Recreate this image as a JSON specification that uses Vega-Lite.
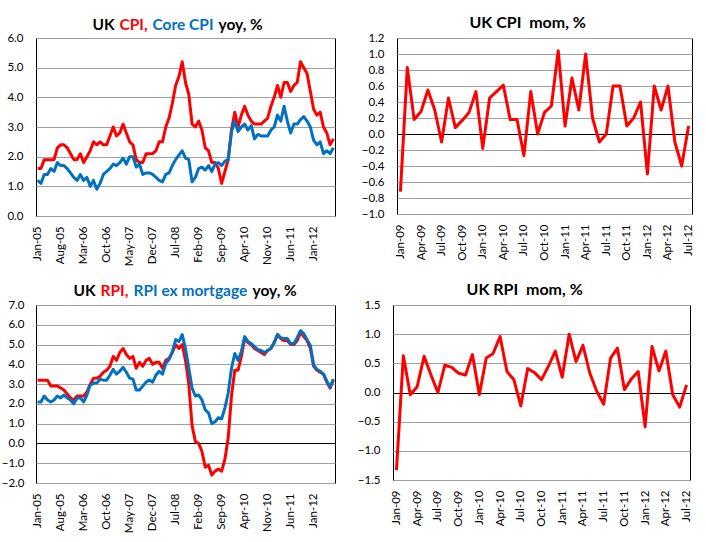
{
  "$schema": "https://vega.github.io/schema/vega-lite/v6.json",
  "padding": {"left": 0, "top": 14, "right": 5, "bottom": 5},
  "background": "white",
  "datasets": {
    "yoy": [
      {"month": "Jan-05", "CPI": 1.6, "Core CPI": 1.2, "RPI": 3.2, "RPI ex mortgage": 2.1},
      {"month": "Feb-05", "CPI": 1.6, "Core CPI": 1.1, "RPI": 3.2, "RPI ex mortgage": 2.1},
      {"month": "Mar-05", "CPI": 1.9, "Core CPI": 1.4, "RPI": 3.2, "RPI ex mortgage": 2.4},
      {"month": "Apr-05", "CPI": 1.9, "Core CPI": 1.4, "RPI": 3.2, "RPI ex mortgage": 2.2},
      {"month": "May-05", "CPI": 1.9, "Core CPI": 1.6, "RPI": 2.9, "RPI ex mortgage": 2.1},
      {"month": "Jun-05", "CPI": 1.9, "Core CPI": 1.5, "RPI": 2.9, "RPI ex mortgage": 2.2},
      {"month": "Jul-05", "CPI": 2.3, "Core CPI": 1.8, "RPI": 2.9, "RPI ex mortgage": 2.4},
      {"month": "Aug-05", "CPI": 2.4, "Core CPI": 1.7, "RPI": 2.8, "RPI ex mortgage": 2.3},
      {"month": "Sep-05", "CPI": 2.4, "Core CPI": 1.7, "RPI": 2.7, "RPI ex mortgage": 2.45},
      {"month": "Oct-05", "CPI": 2.3, "Core CPI": 1.6, "RPI": 2.5, "RPI ex mortgage": 2.3},
      {"month": "Nov-05", "CPI": 2.1, "Core CPI": 1.45, "RPI": 2.3, "RPI ex mortgage": 2.2},
      {"month": "Dec-05", "CPI": 1.9, "Core CPI": 1.3, "RPI": 2.2, "RPI ex mortgage": 2.0},
      {"month": "Jan-06", "CPI": 1.9, "Core CPI": 1.2, "RPI": 2.4, "RPI ex mortgage": 2.3},
      {"month": "Feb-06", "CPI": 2.1, "Core CPI": 1.4, "RPI": 2.4, "RPI ex mortgage": 2.3},
      {"month": "Mar-06", "CPI": 1.8, "Core CPI": 1.2, "RPI": 2.4, "RPI ex mortgage": 2.1},
      {"month": "Apr-06", "CPI": 2.0, "Core CPI": 1.3, "RPI": 2.6, "RPI ex mortgage": 2.45},
      {"month": "May-06", "CPI": 2.2, "Core CPI": 1.0, "RPI": 3.0, "RPI ex mortgage": 2.95},
      {"month": "Jun-06", "CPI": 2.5, "Core CPI": 1.2, "RPI": 3.3, "RPI ex mortgage": 3.05},
      {"month": "Jul-06", "CPI": 2.4, "Core CPI": 0.9, "RPI": 3.3, "RPI ex mortgage": 3.05},
      {"month": "Aug-06", "CPI": 2.5, "Core CPI": 1.1, "RPI": 3.4, "RPI ex mortgage": 3.25},
      {"month": "Sep-06", "CPI": 2.4, "Core CPI": 1.4, "RPI": 3.6, "RPI ex mortgage": 3.2},
      {"month": "Oct-06", "CPI": 2.4, "Core CPI": 1.5, "RPI": 3.7, "RPI ex mortgage": 3.2},
      {"month": "Nov-06", "CPI": 2.7, "Core CPI": 1.6, "RPI": 3.9, "RPI ex mortgage": 3.45},
      {"month": "Dec-06", "CPI": 3.0, "Core CPI": 1.75, "RPI": 4.4, "RPI ex mortgage": 3.75},
      {"month": "Jan-07", "CPI": 2.7, "Core CPI": 1.7, "RPI": 4.2, "RPI ex mortgage": 3.5},
      {"month": "Feb-07", "CPI": 2.8, "Core CPI": 1.8, "RPI": 4.6, "RPI ex mortgage": 3.65},
      {"month": "Mar-07", "CPI": 3.1, "Core CPI": 1.95, "RPI": 4.8, "RPI ex mortgage": 3.85},
      {"month": "Apr-07", "CPI": 2.8, "Core CPI": 1.75, "RPI": 4.5, "RPI ex mortgage": 3.6},
      {"month": "May-07", "CPI": 2.5, "Core CPI": 2.0, "RPI": 4.3, "RPI ex mortgage": 3.3},
      {"month": "Jun-07", "CPI": 2.4, "Core CPI": 2.0, "RPI": 4.4, "RPI ex mortgage": 3.25},
      {"month": "Jul-07", "CPI": 1.9, "Core CPI": 1.65, "RPI": 3.8, "RPI ex mortgage": 2.7},
      {"month": "Aug-07", "CPI": 1.8, "Core CPI": 1.75, "RPI": 4.1, "RPI ex mortgage": 2.7},
      {"month": "Sep-07", "CPI": 1.8, "Core CPI": 1.4, "RPI": 3.9, "RPI ex mortgage": 2.9},
      {"month": "Oct-07", "CPI": 2.1, "Core CPI": 1.45, "RPI": 4.2, "RPI ex mortgage": 3.1},
      {"month": "Nov-07", "CPI": 2.1, "Core CPI": 1.45, "RPI": 4.3, "RPI ex mortgage": 3.2},
      {"month": "Dec-07", "CPI": 2.1, "Core CPI": 1.4, "RPI": 4.0, "RPI ex mortgage": 3.1},
      {"month": "Jan-08", "CPI": 2.2, "Core CPI": 1.3, "RPI": 4.1, "RPI ex mortgage": 3.45},
      {"month": "Feb-08", "CPI": 2.5, "Core CPI": 1.2, "RPI": 4.1, "RPI ex mortgage": 3.65},
      {"month": "Mar-08", "CPI": 2.5, "Core CPI": 1.15, "RPI": 3.8, "RPI ex mortgage": 3.5},
      {"month": "Apr-08", "CPI": 3.0, "Core CPI": 1.4, "RPI": 4.2, "RPI ex mortgage": 4.05},
      {"month": "May-08", "CPI": 3.3, "Core CPI": 1.45, "RPI": 4.3, "RPI ex mortgage": 4.25},
      {"month": "Jun-08", "CPI": 3.8, "Core CPI": 1.7, "RPI": 4.6, "RPI ex mortgage": 4.65},
      {"month": "Jul-08", "CPI": 4.4, "Core CPI": 1.9, "RPI": 5.0, "RPI ex mortgage": 5.25},
      {"month": "Aug-08", "CPI": 4.7, "Core CPI": 2.05, "RPI": 4.8, "RPI ex mortgage": 5.15},
      {"month": "Sep-08", "CPI": 5.2, "Core CPI": 2.2, "RPI": 5.0, "RPI ex mortgage": 5.5},
      {"month": "Oct-08", "CPI": 4.5, "Core CPI": 1.95, "RPI": 4.2, "RPI ex mortgage": 4.8},
      {"month": "Nov-08", "CPI": 4.1, "Core CPI": 1.9, "RPI": 3.0, "RPI ex mortgage": 3.8},
      {"month": "Dec-08", "CPI": 3.1, "Core CPI": 1.15, "RPI": 0.9, "RPI ex mortgage": 2.8},
      {"month": "Jan-09", "CPI": 3.0, "Core CPI": 1.3, "RPI": 0.1, "RPI ex mortgage": 2.4},
      {"month": "Feb-09", "CPI": 3.2, "Core CPI": 1.6, "RPI": 0.0, "RPI ex mortgage": 2.45},
      {"month": "Mar-09", "CPI": 2.9, "Core CPI": 1.65, "RPI": -0.4, "RPI ex mortgage": 2.2},
      {"month": "Apr-09", "CPI": 2.3, "Core CPI": 1.55, "RPI": -1.2, "RPI ex mortgage": 1.7},
      {"month": "May-09", "CPI": 2.2, "Core CPI": 1.7, "RPI": -1.1, "RPI ex mortgage": 1.55},
      {"month": "Jun-09", "CPI": 1.8, "Core CPI": 1.5, "RPI": -1.6, "RPI ex mortgage": 1.0},
      {"month": "Jul-09", "CPI": 1.8, "Core CPI": 1.75, "RPI": -1.4, "RPI ex mortgage": 1.1},
      {"month": "Aug-09", "CPI": 1.6, "Core CPI": 1.8, "RPI": -1.3, "RPI ex mortgage": 1.3},
      {"month": "Sep-09", "CPI": 1.1, "Core CPI": 1.7, "RPI": -1.4, "RPI ex mortgage": 1.25},
      {"month": "Oct-09", "CPI": 1.5, "Core CPI": 1.85, "RPI": -0.8, "RPI ex mortgage": 1.8},
      {"month": "Nov-09", "CPI": 1.9, "Core CPI": 1.9, "RPI": 0.3, "RPI ex mortgage": 2.55},
      {"month": "Dec-09", "CPI": 2.9, "Core CPI": 2.85, "RPI": 2.4, "RPI ex mortgage": 3.8},
      {"month": "Jan-10", "CPI": 3.5, "Core CPI": 3.2, "RPI": 3.7, "RPI ex mortgage": 4.55},
      {"month": "Feb-10", "CPI": 3.0, "Core CPI": 2.85, "RPI": 3.7, "RPI ex mortgage": 4.2},
      {"month": "Mar-10", "CPI": 3.4, "Core CPI": 3.0, "RPI": 4.4, "RPI ex mortgage": 4.65},
      {"month": "Apr-10", "CPI": 3.7, "Core CPI": 3.1, "RPI": 5.3, "RPI ex mortgage": 5.4},
      {"month": "May-10", "CPI": 3.4, "Core CPI": 2.9, "RPI": 5.1, "RPI ex mortgage": 5.15},
      {"month": "Jun-10", "CPI": 3.2, "Core CPI": 3.05, "RPI": 5.0, "RPI ex mortgage": 5.05},
      {"month": "Jul-10", "CPI": 3.1, "Core CPI": 2.6, "RPI": 4.8, "RPI ex mortgage": 4.9},
      {"month": "Aug-10", "CPI": 3.1, "Core CPI": 2.75, "RPI": 4.7, "RPI ex mortgage": 4.75},
      {"month": "Sep-10", "CPI": 3.1, "Core CPI": 2.7, "RPI": 4.6, "RPI ex mortgage": 4.7},
      {"month": "Oct-10", "CPI": 3.2, "Core CPI": 2.7, "RPI": 4.5, "RPI ex mortgage": 4.6},
      {"month": "Nov-10", "CPI": 3.3, "Core CPI": 2.7, "RPI": 4.7, "RPI ex mortgage": 4.7},
      {"month": "Dec-10", "CPI": 3.7, "Core CPI": 2.9, "RPI": 4.8, "RPI ex mortgage": 4.8},
      {"month": "Jan-11", "CPI": 4.0, "Core CPI": 3.0, "RPI": 5.1, "RPI ex mortgage": 5.1},
      {"month": "Feb-11", "CPI": 4.4, "Core CPI": 3.4, "RPI": 5.5, "RPI ex mortgage": 5.5},
      {"month": "Mar-11", "CPI": 4.0, "Core CPI": 3.2, "RPI": 5.3, "RPI ex mortgage": 5.35},
      {"month": "Apr-11", "CPI": 4.5, "Core CPI": 3.7, "RPI": 5.2, "RPI ex mortgage": 5.3},
      {"month": "May-11", "CPI": 4.5, "Core CPI": 3.2, "RPI": 5.2, "RPI ex mortgage": 5.3},
      {"month": "Jun-11", "CPI": 4.2, "Core CPI": 2.8, "RPI": 5.0, "RPI ex mortgage": 5.05},
      {"month": "Jul-11", "CPI": 4.4, "Core CPI": 3.1, "RPI": 5.0, "RPI ex mortgage": 5.05},
      {"month": "Aug-11", "CPI": 4.5, "Core CPI": 3.1, "RPI": 5.2, "RPI ex mortgage": 5.35},
      {"month": "Sep-11", "CPI": 5.2, "Core CPI": 3.25, "RPI": 5.6, "RPI ex mortgage": 5.7},
      {"month": "Oct-11", "CPI": 5.0, "Core CPI": 3.35, "RPI": 5.4, "RPI ex mortgage": 5.55},
      {"month": "Nov-11", "CPI": 4.8, "Core CPI": 3.2, "RPI": 5.2, "RPI ex mortgage": 5.25},
      {"month": "Dec-11", "CPI": 4.2, "Core CPI": 3.0, "RPI": 4.8, "RPI ex mortgage": 4.95},
      {"month": "Jan-12", "CPI": 3.6, "Core CPI": 2.55, "RPI": 3.9, "RPI ex mortgage": 3.95},
      {"month": "Feb-12", "CPI": 3.4, "Core CPI": 2.4, "RPI": 3.7, "RPI ex mortgage": 3.75},
      {"month": "Mar-12", "CPI": 3.5, "Core CPI": 2.5, "RPI": 3.6, "RPI ex mortgage": 3.65},
      {"month": "Apr-12", "CPI": 3.0, "Core CPI": 2.1, "RPI": 3.5, "RPI ex mortgage": 3.5},
      {"month": "May-12", "CPI": 2.8, "Core CPI": 2.2, "RPI": 3.1, "RPI ex mortgage": 3.15},
      {"month": "Jun-12", "CPI": 2.4, "Core CPI": 2.1, "RPI": 2.8, "RPI ex mortgage": 2.85},
      {"month": "Jul-12", "CPI": 2.6, "Core CPI": 2.3, "RPI": 3.2, "RPI ex mortgage": 3.25}
    ],
    "mom": [
      {"month": "Jan-09", "CPI": -0.72, "RPI": -1.33},
      {"month": "Feb-09", "CPI": 0.83, "RPI": 0.63},
      {"month": "Mar-09", "CPI": 0.18, "RPI": -0.04},
      {"month": "Apr-09", "CPI": 0.28, "RPI": 0.1},
      {"month": "May-09", "CPI": 0.55, "RPI": 0.62},
      {"month": "Jun-09", "CPI": 0.3, "RPI": 0.3},
      {"month": "Jul-09", "CPI": -0.1, "RPI": 0.0},
      {"month": "Aug-09", "CPI": 0.45, "RPI": 0.47},
      {"month": "Sep-09", "CPI": 0.08, "RPI": 0.43},
      {"month": "Oct-09", "CPI": 0.17, "RPI": 0.33},
      {"month": "Nov-09", "CPI": 0.27, "RPI": 0.3},
      {"month": "Dec-09", "CPI": 0.53, "RPI": 0.65},
      {"month": "Jan-10", "CPI": -0.18, "RPI": -0.04},
      {"month": "Feb-10", "CPI": 0.45, "RPI": 0.59},
      {"month": "Mar-10", "CPI": 0.53, "RPI": 0.67},
      {"month": "Apr-10", "CPI": 0.61, "RPI": 0.96},
      {"month": "May-10", "CPI": 0.18, "RPI": 0.36},
      {"month": "Jun-10", "CPI": 0.18, "RPI": 0.22},
      {"month": "Jul-10", "CPI": -0.27, "RPI": -0.23},
      {"month": "Aug-10", "CPI": 0.53, "RPI": 0.41},
      {"month": "Sep-10", "CPI": 0.0, "RPI": 0.34},
      {"month": "Oct-10", "CPI": 0.27, "RPI": 0.22},
      {"month": "Nov-10", "CPI": 0.35, "RPI": 0.45},
      {"month": "Dec-10", "CPI": 1.04, "RPI": 0.71},
      {"month": "Jan-11", "CPI": 0.1, "RPI": 0.26},
      {"month": "Feb-11", "CPI": 0.7, "RPI": 1.0},
      {"month": "Mar-11", "CPI": 0.3, "RPI": 0.53},
      {"month": "Apr-11", "CPI": 1.0, "RPI": 0.81},
      {"month": "May-11", "CPI": 0.2, "RPI": 0.33},
      {"month": "Jun-11", "CPI": -0.1, "RPI": 0.02},
      {"month": "Jul-11", "CPI": 0.0, "RPI": -0.2},
      {"month": "Aug-11", "CPI": 0.6, "RPI": 0.59},
      {"month": "Sep-11", "CPI": 0.6, "RPI": 0.76},
      {"month": "Oct-11", "CPI": 0.1, "RPI": 0.05},
      {"month": "Nov-11", "CPI": 0.2, "RPI": 0.23},
      {"month": "Dec-11", "CPI": 0.4, "RPI": 0.36},
      {"month": "Jan-12", "CPI": -0.5, "RPI": -0.59},
      {"month": "Feb-12", "CPI": 0.6, "RPI": 0.79},
      {"month": "Mar-12", "CPI": 0.3, "RPI": 0.37},
      {"month": "Apr-12", "CPI": 0.6, "RPI": 0.71},
      {"month": "May-12", "CPI": -0.1, "RPI": -0.04},
      {"month": "Jun-12", "CPI": -0.4, "RPI": -0.25},
      {"month": "Jul-12", "CPI": 0.1, "RPI": 0.13}
    ]
  },
  "spacing": 14,
  "align": "none",
  "vconcat": [
    {
      "spacing": 24,
      "hconcat": [
        {
          "width": 299,
          "height": 178,
          "data": {"name": "yoy"},
          "transform": [{"fold": ["CPI", "Core CPI"], "as": ["series", "value"]}],
          "mark": {"type": "line", "strokeWidth": 3, "strokeJoin": "round"},
          "encoding": {
            "x": {
              "field": "month", "type": "ordinal", "sort": null,
              "scale": {"type": "point", "padding": 0.5},
              "axis": {"title": null, "labelAngle": -90, "values": ["Jan-05", "Aug-05", "Mar-06", "Oct-06", "May-07", "Dec-07", "Jul-08", "Feb-09", "Sep-09", "Apr-10", "Nov-10", "Jun-11", "Jan-12"]}
            },
            "y": {
              "field": "value", "type": "quantitative",
              "scale": {"domain": [0, 6], "nice": false},
              "axis": {"title": null, "format": ".1f", "values": [0, 1, 2, 3, 4, 5, 6], "minExtent": 30, "maxExtent": 30}
            },
            "color": {
              "field": "series", "type": "nominal",
              "scale": {"domain": ["UK", "CPI", "Core CPI", "yoy, %"], "range": ["black", "#FF0000", "#0070C0", "black"]},
              "legend": {
                "orient": "none", "legendX": 57, "legendY": -21, "direction": "horizontal", "columns": 4, "title": null,
                "symbolType": "circle", "symbolSize": 0.01, "symbolStrokeWidth": 0, "symbolOpacity": 0,
                "labelOffset": -16, "columnPadding": 4, "gridAlign": "each",
                "labelExpr": "datum.label == 'CPI' ? 'CPI,' : datum.label",
                "labelColor": {"expr": "datum.value == 'CPI' ? '#FF0000' : datum.value == 'Core CPI' ? '#0070C0' : 'black'"}
              }
            }
          }
        },
        {
          "width": 295,
          "height": 176,
          "title": "UK CPI\u00a0 mom, %",
          "data": {"name": "mom"},
          "mark": {"type": "line", "strokeWidth": 3, "strokeJoin": "round", "color": "#FF0000"},
          "encoding": {
            "x": {
              "field": "month", "type": "ordinal", "sort": null,
              "scale": {"type": "point", "padding": 0.5},
              "axis": {"title": null, "labelAngle": -90, "values": ["Jan-09", "Apr-09", "Jul-09", "Oct-09", "Jan-10", "Apr-10", "Jul-10", "Oct-10", "Jan-11", "Apr-11", "Jul-11", "Oct-11", "Jan-12", "Apr-12", "Jul-12"]}
            },
            "y": {
              "field": "CPI", "type": "quantitative",
              "scale": {"domain": [-1, 1.2], "nice": false},
              "axis": {
                "title": null, "format": ".1f", "minExtent": 35, "maxExtent": 35,
                "values": [-1, -0.8, -0.6, -0.4, -0.2, 0, 0.2, 0.4, 0.6, 0.8, 1, 1.2],
                "gridColor": {"condition": {"test": "abs(datum.value) < 0.001", "value": "black"}, "value": "#A0A0A0"}
              }
            }
          }
        }
      ],
      "resolve": {"scale": {"color": "independent"}, "legend": {"color": "independent"}}
    },
    {
      "spacing": 20,
      "hconcat": [
        {
          "width": 299,
          "height": 178,
          "data": {"name": "yoy"},
          "transform": [{"fold": ["RPI", "RPI ex mortgage"], "as": ["series", "value"]}],
          "mark": {"type": "line", "strokeWidth": 3, "strokeJoin": "round"},
          "encoding": {
            "x": {
              "field": "month", "type": "ordinal", "sort": null,
              "scale": {"type": "point", "padding": 0.5},
              "axis": {"title": null, "labelAngle": -90, "values": ["Jan-05", "Aug-05", "Mar-06", "Oct-06", "May-07", "Dec-07", "Jul-08", "Feb-09", "Sep-09", "Apr-10", "Nov-10", "Jun-11", "Jan-12"]}
            },
            "y": {
              "field": "value", "type": "quantitative",
              "scale": {"domain": [-2, 7], "nice": false},
              "axis": {
                "title": null, "format": ".1f", "values": [-2, -1, 0, 1, 2, 3, 4, 5, 6, 7], "minExtent": 34, "maxExtent": 34, "labelPadding": 12,
                "gridColor": {"condition": {"test": "datum.value === 0", "value": "black"}, "value": "#A0A0A0"}
              }
            },
            "color": {
              "field": "series", "type": "nominal",
              "scale": {"domain": ["UK", "RPI", "RPI ex mortgage", "yoy, %"], "range": ["black", "#FF0000", "#0070C0", "black"]},
              "legend": {
                "orient": "none", "legendX": 38, "legendY": -22, "direction": "horizontal", "columns": 4, "title": null,
                "symbolType": "circle", "symbolSize": 0.01, "symbolStrokeWidth": 0, "symbolOpacity": 0,
                "labelOffset": -16, "columnPadding": 4, "gridAlign": "each",
                "labelExpr": "datum.label == 'RPI' ? 'RPI,' : datum.label",
                "labelColor": {"expr": "datum.value == 'RPI' ? '#FF0000' : datum.value == 'RPI ex mortgage' ? '#0070C0' : 'black'"}
              }
            }
          }
        },
        {
          "width": 297,
          "height": 175,
          "title": "UK RPI\u00a0 mom, %",
          "data": {"name": "mom"},
          "mark": {"type": "line", "strokeWidth": 3, "strokeJoin": "round", "color": "#FF0000"},
          "encoding": {
            "x": {
              "field": "month", "type": "ordinal", "sort": null,
              "scale": {"type": "point", "padding": 0.5},
              "axis": {"title": null, "labelAngle": -90, "values": ["Jan-09", "Apr-09", "Jul-09", "Oct-09", "Jan-10", "Apr-10", "Jul-10", "Oct-10", "Jan-11", "Apr-11", "Jul-11", "Oct-11", "Jan-12", "Apr-12", "Jul-12"]}
            },
            "y": {
              "field": "RPI", "type": "quantitative",
              "scale": {"domain": [-1.5, 1.5], "nice": false},
              "axis": {
                "title": null, "format": ".1f", "minExtent": 34, "maxExtent": 34,
                "values": [-1.5, -1, -0.5, 0, 0.5, 1, 1.5],
                "gridColor": {"condition": {"test": "datum.value === 0", "value": "black"}, "value": "#A0A0A0"}
              }
            }
          }
        }
      ],
      "resolve": {"scale": {"color": "independent"}, "legend": {"color": "independent"}}
    }
  ],
  "resolve": {"scale": {"color": "independent"}, "legend": {"color": "independent"}},
  "config": {
    "font": "Lato",
    "view": {"stroke": "black", "strokeWidth": 1},
    "axis": {
      "labelFont": "Lato", "labelFontSize": 11.5, "labelColor": "black",
      "ticks": false, "tickSize": 0, "domain": false, "gridColor": "#A0A0A0", "gridWidth": 1
    },
    "axisX": {"grid": false, "labelPadding": 10},
    "axisY": {"labelPadding": 13},
    "legend": {
      "labelFont": "Lato", "labelFontSize": 15.5, "labelFontWeight": "bold", "labelLimit": 400
    },
    "title": {"font": "Lato", "fontSize": 16, "fontWeight": "bold", "color": "black", "offset": 1, "frame": "bounds"}
  }
}
